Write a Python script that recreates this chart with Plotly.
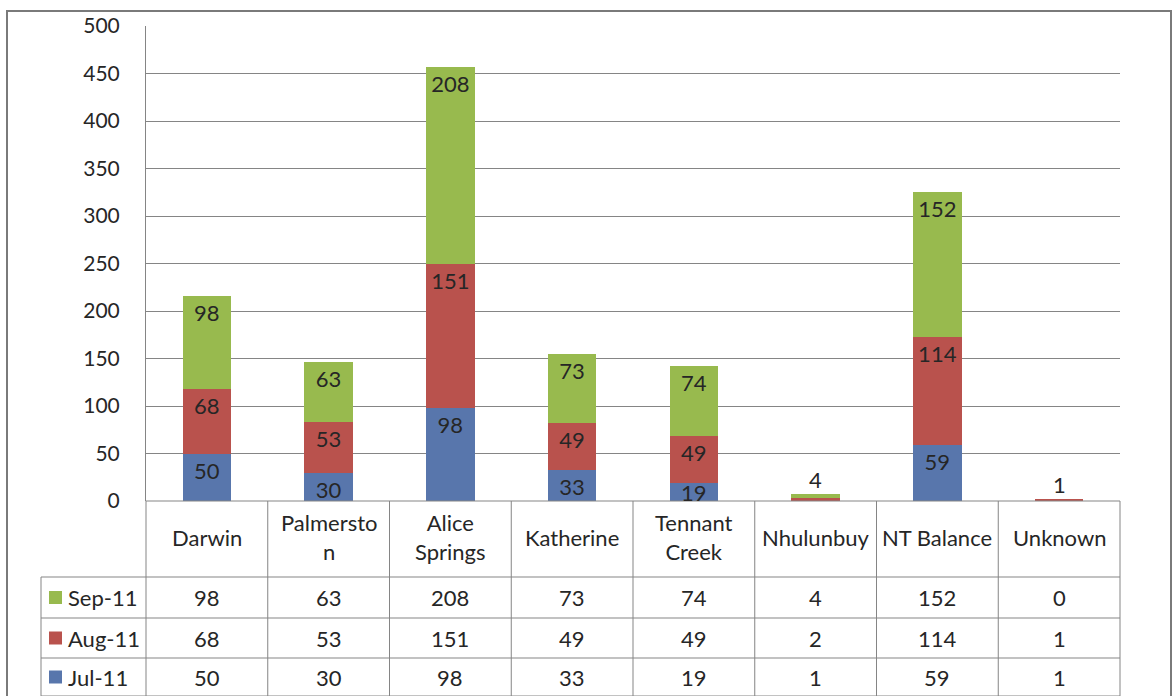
import plotly.graph_objects as go

# ---------------- data ----------------
categories = ["Darwin", "Palmerston", "Alice Springs", "Katherine",
              "Tennant Creek", "Nhulunbuy", "NT Balance", "Unknown"]
header_labels = ["Darwin", "Palmersto<br>n", "Alice<br>Springs", "Katherine",
                 "Tennant<br>Creek", "Nhulunbuy", "NT Balance", "Unknown"]
jul_11 = [50, 30, 98, 33, 19, 1, 59, 1]
aug_11 = [68, 53, 151, 49, 49, 2, 114, 1]
sep_11 = [98, 63, 208, 73, 74, 4, 152, 0]
series_names = ["Jul-11", "Aug-11", "Sep-11"]
y_ticks = [0, 50, 100, 150, 200, 250, 300, 350, 400, 450, 500]
# categories whose segments are too small to carry inside labels
small_cats = ["Nhulunbuy", "Unknown"]

# ---------------- style ----------------
colors = {"Jul-11": "#5876AC", "Aug-11": "#B9524D", "Sep-11": "#98BA4E"}
FONT = "Lato, 'Open Sans', sans-serif"
FS = 22
FS_TICK = 21
TXT = "#262626"
GRID = "#858585"
SHORT_SEG = 25   # segments shorter than this get a hand-placed label

W, H = 1176, 696
plot_left, plot_right = 146, 1120
plot_top, plot_bottom = 26, 501
row_edges = [501, 577, 618, 658, 696]   # header, Sep, Aug, Jul rows
legend_left = 41
frame = (7, 11, 1171, 720)


def px(x):
    return x / W


def py(y):
    return 1 - y / H


values = {"Jul-11": jul_11, "Aug-11": aug_11, "Sep-11": sep_11}

fig = go.Figure()
annotations = []
base = [0] * len(categories)
for name in series_names:
    vals = values[name]
    txt = []
    for i, (c, v) in enumerate(zip(categories, vals)):
        if c in small_cats or v == 0:
            txt.append("")
        elif v < SHORT_SEG:
            txt.append("")
            annotations.append(dict(x=c, y=base[i] + v, xref="x", yref="y",
                                    text=str(v), showarrow=False,
                                    yanchor="top", yshift=6,
                                    font=dict(family=FONT, size=FS, color=TXT)))
        else:
            txt.append(str(v))
    fig.add_trace(go.Bar(
        x=categories, y=vals, name=name,
        marker=dict(color=colors[name], line=dict(width=0)),
        width=0.4,
        text=txt, textposition="inside", insidetextanchor="end",
        textangle=0, constraintext="none",
        textfont=dict(family=FONT, size=FS, color=TXT),
        cliponaxis=False, hoverinfo="skip",
    ))
    base = [b + v for b, v in zip(base, vals)]

shapes = []

# labels above the tiny stacks (top visible series value)
for c in small_cats:
    i = categories.index(c)
    total = jul_11[i] + aug_11[i] + sep_11[i]
    shown = sep_11[i] if sep_11[i] else aug_11[i]
    annotations.append(dict(x=c, y=total, xref="x", yref="y", text=str(shown),
                            showarrow=False, yanchor="bottom", yshift=-1,
                            font=dict(family=FONT, size=FS, color=TXT)))

line_style = dict(color=GRID, width=1)

# outer frame
shapes.append(dict(type="rect", xref="paper", yref="paper",
                   x0=px(frame[0]), x1=px(frame[2]), y0=py(frame[3]), y1=py(frame[1]),
                   line=dict(color="#7a7a7a", width=2), fillcolor="rgba(0,0,0,0)"))

# data table: vertical lines
ncat = len(categories)
colw = (plot_right - plot_left) / ncat
for i in range(ncat + 1):
    xx = plot_left + i * colw
    shapes.append(dict(type="line", xref="paper", yref="paper",
                       x0=px(xx), x1=px(xx), y0=py(row_edges[0]), y1=py(row_edges[-1]),
                       line=line_style))
shapes.append(dict(type="line", xref="paper", yref="paper",
                   x0=px(legend_left), x1=px(legend_left),
                   y0=py(row_edges[1]), y1=py(row_edges[-1]), line=line_style))
# horizontal lines
for k, ye in enumerate(row_edges):
    x0 = plot_left if k == 0 else legend_left
    shapes.append(dict(type="line", xref="paper", yref="paper",
                       x0=px(x0), x1=px(plot_right), y0=py(ye), y1=py(ye),
                       line=line_style))

# header text
hc = (row_edges[0] + row_edges[1]) / 2
for c, lab in zip(categories, header_labels):
    annotations.append(dict(x=c, y=py(hc), xref="x", yref="paper", text=lab,
                            showarrow=False, xanchor="center", yanchor="middle",
                            yshift=2,
                            font=dict(family=FONT, size=FS, color=TXT)))

# rows: Sep, Aug, Jul
for r, name in enumerate(["Sep-11", "Aug-11", "Jul-11"]):
    top, bot = row_edges[r + 1], row_edges[r + 2]
    yc = (top + bot) / 2
    shapes.append(dict(type="rect", xref="paper", yref="paper",
                       x0=px(49), x1=px(62), y0=py(yc + 6.5), y1=py(yc - 6.5),
                       line=dict(width=0), fillcolor=colors[name]))
    annotations.append(dict(x=px(66), y=py(yc), xref="paper", yref="paper",
                            text=name, showarrow=False, xanchor="left",
                            yanchor="middle",
                            font=dict(family=FONT, size=FS, color=TXT)))
    for c, v in zip(categories, values[name]):
        annotations.append(dict(x=c, y=py(yc), xref="x", yref="paper",
                                text=str(v), showarrow=False,
                                xanchor="center", yanchor="middle",
                                font=dict(family=FONT, size=FS, color=TXT)))

fig.update_layout(
    width=W, height=H,
    margin=dict(l=0, r=0, t=0, b=0, pad=0),
    paper_bgcolor="white", plot_bgcolor="white",
    barmode="stack", showlegend=False,
    xaxis=dict(domain=[px(plot_left), px(plot_right)], showticklabels=False,
               showgrid=False, zeroline=False, showline=False, automargin=False,
               range=[-0.5, ncat - 0.5], fixedrange=True),
    yaxis=dict(domain=[py(plot_bottom), py(plot_top)], range=[0, 500],
               tickvals=y_ticks, showgrid=True, gridcolor=GRID, gridwidth=1,
               zeroline=False, showline=True, linecolor=GRID, linewidth=1,
               ticks="", ticklabelstandoff=21, automargin=False,
               tickfont=dict(family=FONT, size=FS_TICK, color=TXT), fixedrange=True),
    shapes=shapes, annotations=annotations,
)

fig.write_html("out.html")
